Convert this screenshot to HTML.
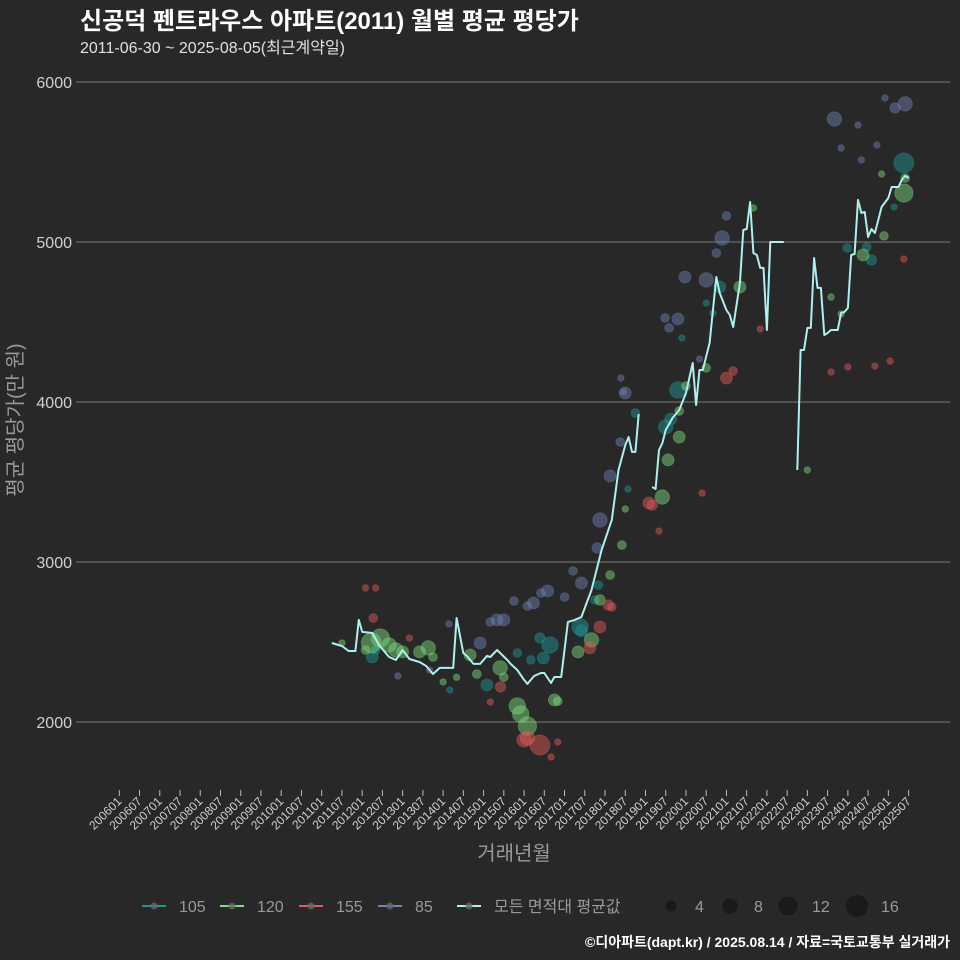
<!DOCTYPE html>
<html><head><meta charset="utf-8">
<style>
body{margin:0;background:#282828;}
svg{display:block;font-family:"Liberation Sans","Noto Sans CJK KR",sans-serif;}
</style></head>
<body>
<svg id="chart" width="960" height="960" viewBox="0 0 960 960" xmlns="http://www.w3.org/2000/svg">
<rect x="0" y="0" width="960" height="960" fill="#282828"/>
<text x="80" y="29" fill="#ffffff" font-size="24" font-weight="bold">신공덕 펜트라우스 아파트(2011) 월별 평균 평당가</text>
<text x="80" y="53" fill="#e0e0e0" font-size="16">2011-06-30 ~ 2025-08-05(최근계약일)</text>
<g id="grid"></g>
<g id="xaxis"></g>
<g id="points"></g>
<g id="line"></g>
<text x="514" y="860" text-anchor="middle" fill="#9a9a9a" font-size="20">거래년월</text>
<text transform="translate(22,420) rotate(-90)" text-anchor="middle" fill="#9a9a9a" font-size="20">평균 평당가(만 원)</text>
<g id="legend"></g>
<text x="950" y="947" text-anchor="end" fill="#ffffff" font-size="14" font-weight="bold">©디아파트(dapt.kr) / 2025.08.14 / 자료=국토교통부 실거래가</text>
</svg>
<script>
// month index = months since 2006-01
const yTicks = [2000, 3000, 4000, 5000, 6000];
const xTickLabels = [];
for (let y = 2006; y <= 2025; y++) { xTickLabels.push(y + "01"); xTickLabels.push(y + "07"); }

const avgMonths = [63,66,68,70,71,72,75,77,80,82,84,86,89,91,93,95,97,99,100,102,103,105,107,109,110,112,115,116,118,120,121,123,125,126,128,129,131,133,135,137,140,143,146,148,150,151,152,153,154,null,
158,159,160,161,162,164,166,168,170,171,172,173,175,177,178,180,181,182,184,185,186,187,188,189,190,191,192,193,197,null,
201,202,203,204,205,206,207,208,209,210,211,213,214,215,216,217,218,219,220,221,222,223,224,226,228,229,231,232,233,234];
const avgValues = [2494,2475,2444,2444,2638,2563,2556,2481,2406,2388,2450,2394,2375,2350,2300,2338,2338,2338,2650,2431,2413,2363,2363,2413,2406,2450,2388,2363,2325,2263,2238,2288,2306,2306,2244,2281,2281,2625,2638,2656,2825,3075,3263,3575,3731,3781,3688,3688,3925,null,
3469,3456,3700,3744,3825,3900,3950,4056,4244,3981,4200,4200,4369,4781,4681,4575,4544,4469,4744,5075,5081,5250,4931,4919,4838,4838,4450,5000,5000,null,
3575,4325,4325,4463,4463,4900,4713,4713,4419,4431,4450,4450,4556,4563,4588,4919,4925,5263,5181,5188,5031,5081,5056,5219,5275,5344,5344,5388,5413,5400];

const catNames = ["105","120","155","85"];
const catColors = ["#1f9a9a","#7fe07f","#e85a5a","#7083b8"];
// 105
const m105 = [75,76,98,109,118,122,125.7,127.7,124.7,136.6,137,141,142,150.8,153,162,163.5,165.6,166.8,174,176,178,215.8,221.6,223,229.7,232.6];
const v105 = [2406,2450,2200,2231,2431,2388,2400,2481,2525,2594,2570,2763,2856,3456,3931,3844,3894,4075,4400,4619,4556,4719,4963,4969,4888,5219,5494];
const s105 = [4,2,1,4,2,2,4,8,3,8,4,2,2,1,2,6,4,8,1,1,1,4,2,2,3,1,12];
// 120
const m120 = [66,73,74.7,77.4,80,82,84,89,91.6,93,96,100,104,106,112.9,114,118,119,121,129,130,136,140,142.5,145.5,149,150,161,162.7,166,166,168,174,184,188,204,211,214,220.5,226,226.7,232.6,233];
const v120 = [2494,2450,2494,2525,2481,2450,2438,2438,2463,2406,2250,2280,2419,2300,2338,2280,2100,2050,1975,2138,2130,2438,2513,2763,2919,3106,3331,3406,3638,3781,3944,4100,4213,4719,5213,3575,4656,4550,4919,5425,5038,5306,5400];
const s120 = [1,2,12,10,6,6,4,4,6,2,1,1,4,2,6,2,8,8,10,4,2,4,6,3,2,2,1,6,4,4,2,2,2,4,1,1,1,1,4,1,2,10,2];
// 155
const m155 = [73,76,75.3,86,110,113,124.7,121,120,128,130,139.5,142.5,145,146,157,158,160,172.8,180,182,190,211,216,224,228.5,232.6];
const v155 = [2838,2838,2650,2525,2125,2219,1856,1900,1888,1781,1875,2463,2594,2731,2719,3369,3356,3194,3431,4150,4194,4456,4188,4219,4225,4256,4894];
const s155 = [1,1,2,1,1,3,12,6,6,1,1,4,4,3,2,4,3,1,1,4,2,1,1,1,1,1,1];
// 85
const m85 = [82.6,92,97.7,107,110,112,114,117,121,122.8,125,127,132,134.5,137,141.7,142.5,145.5,148.5,149.4,148.7,150,161.8,163,165.6,167.7,172,174,177,178.7,180,212,214,219,220,224.6,227,230,233];
const v85 = [2288,2325,2613,2494,2625,2638,2638,2756,2725,2744,2806,2819,2781,2944,2869,3088,3262,3538,3750,4063,4150,4056,4525,4463,4519,4781,4269,4763,4931,5025,5163,5769,5588,5731,5513,5606,5900,5838,5863];
const s85 = [1,1,1,4,2,4,4,2,2,4,2,4,2,2,4,3,6,4,2,1,1,4,2,2,4,4,1,6,2,6,2,6,1,1,1,1,1,3,6];

const catMonths = [m105, m120, m155, m85];
const catValues = [v105, v120, v155, v85];
const catSizes = [s105, s120, s155, s85];

const X0 = 119.3, PX_PER_MONTH = 3.373;
const Y0 = 722, Y_VAL0 = 2000, PX_PER_VAL = 0.16;
function xScale(m){ return X0 + m * PX_PER_MONTH; }
function yScale(v){ return Y0 - (v - Y_VAL0) * PX_PER_VAL; }
function rScale(s){ return 2.75 * Math.sqrt(s) + 0.5; }

const NS = "http://www.w3.org/2000/svg";
function mk(tag, attrs, parent){ const e = document.createElementNS(NS, tag); for (const k in attrs) e.setAttribute(k, attrs[k]); parent.appendChild(e); return e; }

const grid = document.getElementById("grid");
yTicks.forEach(t => {
  const y = yScale(t);
  const ln = mk("line", {x1:76, x2:950, y1:y, y2:y, stroke:"#7a7a7a", "stroke-width":0.9}, grid);
  
  
  const tx = mk("text", {x:72, y:y+6, "text-anchor":"end", fill:"#d0d0d0", "font-size":16}, grid);
  tx.textContent = t;
  
  
});

const xa = document.getElementById("xaxis");
xTickLabels.forEach((lab, i) => {
  const x = xScale(i * 6);
  const tk = mk("line", {x1:x, x2:x, y1:790, y2:796, stroke:"#bbbbbb", "stroke-width":1}, xa);
  
  
  const tx = mk("text", {x:x+3, y:802, "text-anchor":"end", fill:"#d0d0d0", "font-size":12, transform:`rotate(-45 ${x+3} 802)`}, xa);
  tx.textContent = lab;
  
  
});

const pg = document.getElementById("points");
catNames.forEach((n, ci) => {
  catMonths[ci].forEach((m, i) => {
    const c = mk("circle", {cx:xScale(m), cy:yScale(catValues[ci][i]), r:rScale(catSizes[ci][i]), fill:catColors[ci], "fill-opacity":0.45, stroke:catColors[ci], "stroke-opacity":0.3}, pg);
    
    
  });
});

const lg = document.getElementById("line");
let d = "", pen = false;
avgMonths.forEach((m, i) => {
  const v = avgValues[i];
  if (m === null || v === null) { pen = false; return; }
  d += (pen ? "L" : "M") + xScale(m).toFixed(1) + "," + yScale(v).toFixed(1);
  pen = true;
});
const path = mk("path", {d:d, fill:"none", stroke:"#aef0ee", "stroke-width":2, "stroke-linejoin":"round"}, lg);



const leg = document.getElementById("legend");
const legItems = catNames.concat(["모든 면적대 평균값"]);
const legColors = catColors.concat(["#aef0ee"]);
const legX = [142, 220, 299, 378, 457];
legItems.forEach((n, i) => {
  const x = legX[i];
  const l = mk("line", {x1:x, x2:x+24, y1:906, y2:906, stroke:legColors[i], "stroke-width":2}, leg);
  
  
  const c = mk("circle", {cx:x+12, cy:906, r:3.5, fill:"#666666", "fill-opacity":0.8}, leg);
  
  
  const t = mk("text", {x:x+37, y:912, fill:"#9a9a9a", "font-size":16}, leg);
  t.textContent = n;
  
  
});
const sizeLabels = [4, 8, 12, 16];
const sizeX = [671, 730, 788, 857];
sizeLabels.forEach((s, i) => {
  const c = mk("circle", {cx:sizeX[i], cy:906, r:rScale(s)-0.5, fill:"#1a1a1a"}, leg);
  
  
  const t = mk("text", {x:sizeX[i]+24, y:912, fill:"#9a9a9a", "font-size":16}, leg);
  t.textContent = s;
  
  
});
</script>
</body></html>
